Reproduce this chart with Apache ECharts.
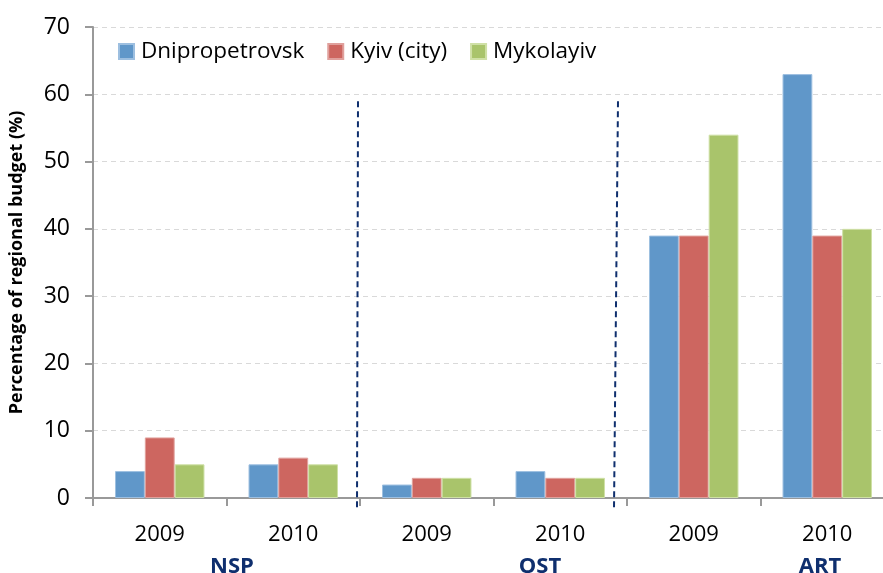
<!DOCTYPE html>
<html>
<head>
<meta charset="utf-8">
<script src="https://cdn.jsdelivr.net/npm/echarts@6/dist/echarts.min.js"></script>
<style>
  html, body { margin: 0; padding: 0; background: #fff; overflow: hidden; }
  /* plot runs a little past the right edge in the original, so the canvas is wider than the window */
  #main { width: 894px; height: 573px; }
</style>
</head>
<body>
<div id="main"></div>
<script>
// years per bar group, programme of each pair
var years = ['2009', '2010', '2009', '2010', '2009', '2010'];
var programmes = ['NSP', 'OST', 'ART'];
var programmeX = [232, 540, 820];   // label centres

var dnipro = [4, 5, 2, 4, 39, 63];
var kyiv = [9, 6, 3, 3, 39, 39];
var mykolayiv = [5, 5, 3, 3, 54, 40];

var yTicks = [0, 10, 20, 30, 40, 50, 60, 70];

var FONT = '"Open Sans", "Noto Sans", sans-serif';
var NAVY = '#0f2f6e';

var myChart = echarts.init(document.getElementById('main'), null, { renderer: 'canvas' });

var option = {
    animation: false,
    backgroundColor: '#fff',
    color: ['#6097c9', '#cd6660', '#a9c46b'],
    legend: {
        left: 113,
        top: 35,
        itemWidth: 15,
        itemHeight: 15,
        itemGap: 23,
        icon: 'rect',
        textStyle: { fontFamily: FONT, fontSize: 22.5, color: '#000', padding: [0, 0, 0, 2] },
        data: ['Dnipropetrovsk', 'Kyiv (city)', 'Mykolayiv']
    },
    grid: {
        left: 90,
        top: 27,
        right: 0,
        bottom: 75
    },
    xAxis: {
        type: 'category',
        data: years,
        axisLine: { lineStyle: { color: '#999', width: 2 } },
        axisTick: { show: true, length: 8, lineStyle: { color: '#999', width: 2 } },
        axisLabel: { fontFamily: FONT, fontSize: 22, color: '#000', margin: 26 }
    },
    yAxis: {
        type: 'value',
        min: yTicks[0],
        max: yTicks[yTicks.length - 1],
        interval: 10,
        name: 'Percentage of regional budget (%)',
        nameLocation: 'middle',
        nameGap: 67,
        nameTextStyle: { fontFamily: FONT, fontSize: 18, fontWeight: 'bold', color: '#000' },
        axisLine: { show: true, lineStyle: { color: '#999', width: 2 } },
        axisTick: { show: true, length: 8, lineStyle: { color: '#999', width: 2 } },
        axisLabel: { fontFamily: FONT, fontSize: 23, color: '#000', margin: 23 },
        splitLine: { lineStyle: { color: '#d9d9d9', type: [5, 4] } }
    },
    series: [
        {
            name: 'Dnipropetrovsk', type: 'bar', data: dnipro,
            barGap: '0%', barCategoryGap: '33%',
            itemStyle: { borderColor: '#9dbfe0', borderWidth: 1 }
        },
        {
            name: 'Kyiv (city)', type: 'bar', data: kyiv,
            barGap: '0%', barCategoryGap: '33%',
            itemStyle: { borderColor: '#e0a09c', borderWidth: 1 }
        },
        {
            name: 'Mykolayiv', type: 'bar', data: mykolayiv,
            barGap: '0%', barCategoryGap: '33%',
            itemStyle: { borderColor: '#cfe0a6', borderWidth: 1 }
        }
    ]
};

myChart.setOption(option);

// separators between programme groups (hand drawn in the original, a bit left of the tick)
var graphics = [];
var yTop = myChart.convertToPixel({ yAxisIndex: 0 }, 60) + 7;
var yBot = myChart.convertToPixel({ yAxisIndex: 0 }, 0) + 11;
var sepShift = [[-2, -3], [-9, -13]];   // [top, bottom] offset from the category boundary
[1, 3].forEach(function (i, k) {
    var xa = myChart.convertToPixel({ xAxisIndex: 0 }, i);
    var xb = myChart.convertToPixel({ xAxisIndex: 0 }, i + 1);
    var xm = (xa + xb) / 2;
    graphics.push({
        type: 'line',
        shape: { x1: xm + sepShift[k][0], y1: yTop, x2: xm + sepShift[k][1], y2: yBot },
        style: { stroke: NAVY, lineWidth: 2, lineDash: [6, 4] },
        z: 10
    });
});
programmes.forEach(function (p, i) {
    graphics.push({
        type: 'text',
        x: programmeX[i],
        y: 567,
        style: {
            text: p,
            fontFamily: FONT,
            fontSize: 22,
            fontWeight: 'bold',
            fill: NAVY,
            align: 'center',
            verticalAlign: 'middle'
        }
    });
});
myChart.setOption({ graphic: graphics });
</script>
</body>
</html>
